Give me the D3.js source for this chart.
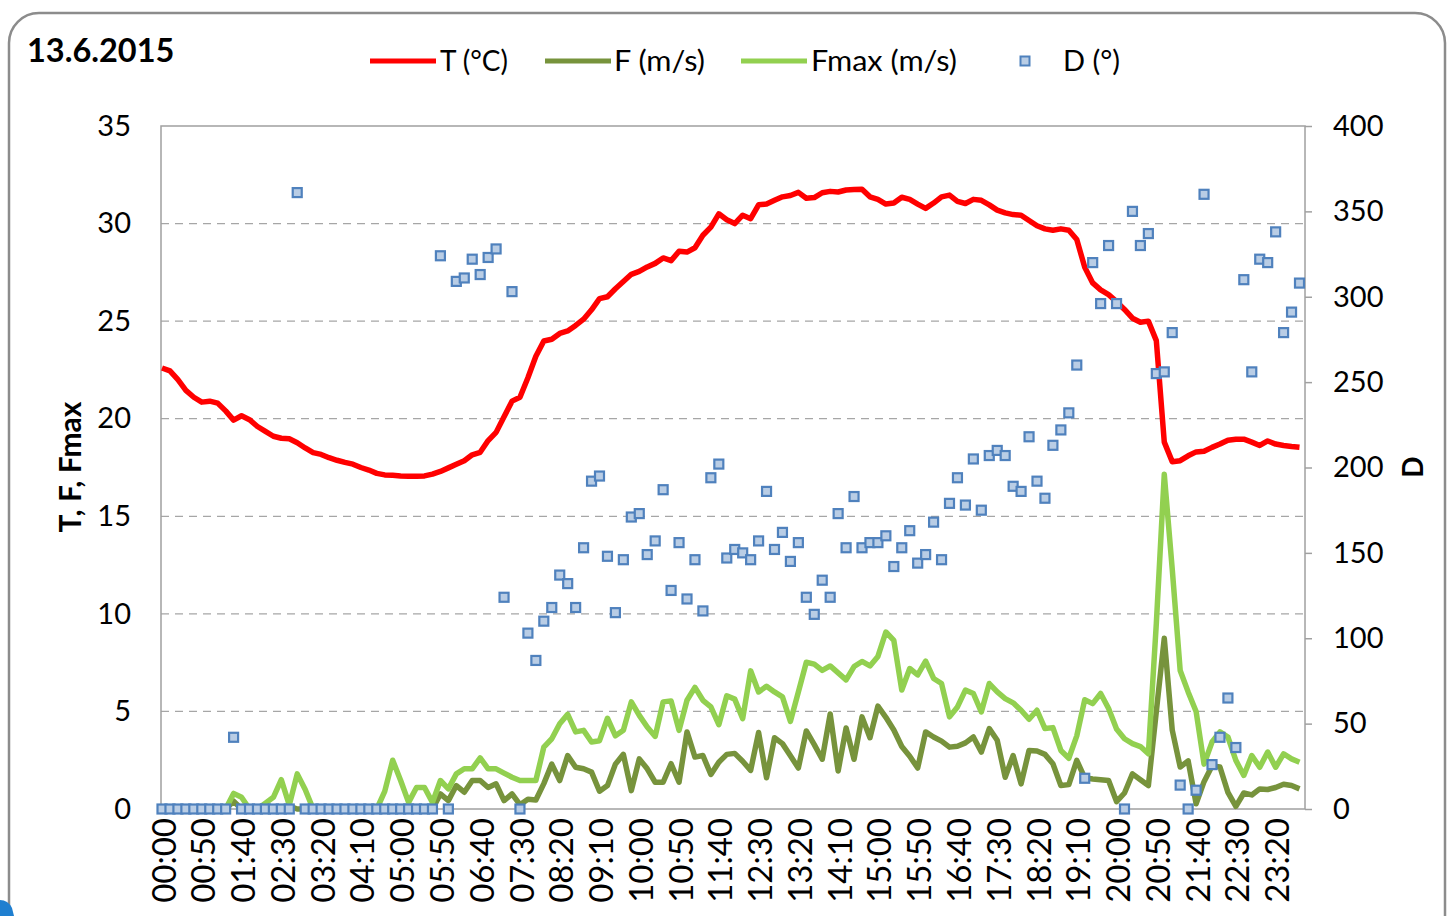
<!DOCTYPE html>
<html><head><meta charset="utf-8">
<script src="https://cdn.jsdelivr.net/npm/d3@7"></script>
<style>html,body{margin:0;padding:0;background:#fff;}svg{display:block;}</style>
</head><body>
<svg id="c" width="1456" height="916"></svg>
<script>
const title = "13.6.2015";
const seriesNames = ["T (°C)", "F (m/s)", "Fmax (m/s)", "D (°)"];
const leftTicks = [0,5,10,15,20,25,30,35];
const rightTicks = [0,50,100,150,200,250,300,350,400];
const leftTitle = "T, F, Fmax";
const rightTitle = "D";

const T = [22.6,22.45,22.0,21.45,21.1,20.85,20.9,20.8,20.4,19.93,20.15,19.95,19.6,19.35,19.1,19.0,18.97,18.77,18.5,18.26,
18.17,18.0,17.87,17.76,17.67,17.5,17.37,17.2,17.12,17.1,17.07,17.05,17.05,17.07,17.16,17.3,17.48,17.67,17.85,18.15,
18.28,18.88,19.3,20.1,20.9,21.1,22.1,23.2,23.98,24.07,24.37,24.5,24.78,25.1,25.58,26.15,26.25,26.66,27.03,27.4,
27.55,27.78,27.96,28.24,28.1,28.58,28.54,28.76,29.4,29.82,30.5,30.2,30.0,30.43,30.25,30.96,31.0,31.19,31.37,31.44,
31.6,31.3,31.33,31.58,31.65,31.62,31.72,31.74,31.76,31.37,31.24,31.0,31.05,31.35,31.24,31.0,30.78,31.05,31.37,31.46,
31.14,31.03,31.24,31.19,30.96,30.69,30.55,30.46,30.43,30.16,29.89,29.73,29.66,29.73,29.66,29.18,27.76,26.96,26.6,26.36,
26.0,25.6,25.15,24.94,25.0,24.0,18.8,17.8,17.85,18.1,18.3,18.33,18.53,18.7,18.9,18.95,18.95,18.8,18.63,18.86,
18.7,18.63,18.58,18.54];

const F = [0,0,0,0,0,0,0,0,0,0.4,0,0,0,0,0,0,0.15,0,0,0,
0,0,0,0,0,0,0,0,0,0,0,0,0,0,0,0.77,0.43,1.2,0.86,1.46,
1.46,1.1,1.29,0.43,0.77,0.22,0.5,0.46,1.3,2.3,1.46,2.74,2.14,2.06,1.89,0.91,1.2,2.3,2.8,0.94,
2.57,2.06,1.37,1.37,2.32,1.37,3.95,2.66,2.74,1.77,2.4,2.8,2.85,2.45,1.98,3.92,1.6,3.65,3.35,2.73,
2.1,4.0,3.3,2.55,4.87,1.95,4.15,2.55,4.72,3.65,5.27,4.7,4.05,3.2,2.7,2.1,3.95,3.69,3.48,3.17,
3.22,3.39,3.69,2.92,4.12,3.52,1.63,2.74,1.29,3.0,2.97,2.8,2.32,1.2,1.25,2.49,1.6,1.54,1.5,1.46,
0.38,0.82,1.8,1.5,1.2,5.0,8.75,4.05,2.15,2.47,0.27,1.4,2.2,2.15,0.85,0.13,0.82,0.72,1.03,1.0,
1.1,1.27,1.2,1.03];

const Fmax = [0,0,0,0,0,0,0,0,0,0.8,0.6,0,0,0.3,0.6,1.5,0.2,1.8,1.0,0,
0,0,0,0,0,0,0,0,0.9,2.5,1.46,0.34,1.1,1.1,0.34,1.46,1.03,1.8,2.06,2.06,
2.62,2.06,2.06,1.84,1.63,1.46,1.46,1.46,3.17,3.6,4.37,4.85,3.95,4.03,3.43,3.5,4.65,3.75,4.03,5.49,
4.8,4.2,3.72,5.49,5.54,4.03,5.57,6.23,5.57,5.23,4.32,5.8,5.63,4.63,7.08,6.0,6.29,6.0,5.75,4.49,
6.0,7.52,7.42,7.1,7.33,6.98,6.62,7.3,7.56,7.33,7.82,9.07,8.64,6.1,7.2,6.87,7.58,6.69,6.43,4.72,
5.23,6.09,5.92,4.97,6.43,6.0,5.66,5.44,5.06,4.6,5.06,4.12,4.17,3.0,2.6,3.75,5.6,5.4,5.92,5.15,
4.1,3.6,3.35,3.2,2.83,9.5,17.15,12.3,7.1,6.0,5.0,2.3,3.43,3.95,3.69,2.49,1.72,2.74,2.14,2.92,
2.14,2.83,2.57,2.4];

const D = [0,0,0,0,0,0,0,0,0,42,0,0,0,0,0,0,0,361,0,0,
0,0,0,0,0,0,0,0,0,0,0,0,0,0,0,324,0,309,311,322,
313,323,328,124,303,0,103,87,110,118,137,132,118,153,192,195,148,115,146,171,
173,149,157,187,128,156,123,146,116,194,202,147,152,150,146,157,186,152,162,145,
156,124,114,134,124,173,153,183,153,156,156,160,142,153,163,144,149,168,146,179,
194,178,205,175,207,210,207,189,186,218,192,182,213,222,232,260,18,320,296,330,
296,0,350,330,337,255,256,279,14,0,11,360,26,42,65,36,310,256,322,320,
338,279,291,308];

const times = T.map((_, i) => {
  const m = i * 10;
  return String(Math.floor(m / 60)).padStart(2, "0") + ":" + String(m % 60).padStart(2, "0");
});

const svg = d3.select("#c");
const FONT = "Lato, 'Open Sans', sans-serif";

// outer frame
svg.append("rect").attr("x", 9).attr("y", 13).attr("width", 1436).attr("height", 960)
  .attr("rx", 30).attr("fill", "#fff").attr("stroke", "#8c8c8c").attr("stroke-width", 2.5);
svg.append("path").attr("d", "M0,900 Q8,900 12,908 L14,916 L0,916 Z").attr("fill", "#1f7fd0");

const L = 161, R = 1305, TOP = 126, BOT = 809;
const x = d3.scaleLinear().domain([0, T.length - 1]).range([L + 1, 1299.5]);
const yL = d3.scaleLinear().domain([0, 35]).range([BOT, TOP]);
const yR = d3.scaleLinear().domain([0, 400]).range([BOT, TOP]);

// gridlines
svg.append("g").selectAll("line").data(leftTicks.filter(t => t > 0 && t < 35)).join("line")
  .attr("x1", L).attr("x2", R).attr("y1", d => yL(d)).attr("y2", d => yL(d))
  .attr("stroke", "#a6a6a6").attr("stroke-width", 1.3).attr("stroke-dasharray", "8,6");

// plot border
svg.append("rect").attr("x", L).attr("y", TOP).attr("width", R - L).attr("height", BOT - TOP)
  .attr("fill", "none").attr("stroke", "#a0a0a0").attr("stroke-width", 1.5);

// left axis
const gl = svg.append("g").attr("transform", `translate(${L},0)`)
  .call(d3.axisLeft(yL).tickValues(leftTicks).tickSize(0).tickPadding(30));
gl.select(".domain").remove();
gl.selectAll("text").attr("font-family", FONT).attr("font-size", 29).attr("fill", "#000");

// right axis
const gr = svg.append("g").attr("transform", `translate(${R},0)`)
  .call(d3.axisRight(yR).tickValues(rightTicks).tickSize(7).tickPadding(21));
gr.select(".domain").remove();
gr.selectAll("line").attr("stroke", "#a0a0a0").attr("stroke-width", 1.5);
gr.selectAll("text").attr("font-family", FONT).attr("font-size", 29).attr("fill", "#000");

// x axis labels
const labelIdx = d3.range(0, T.length, 5);
svg.append("g").selectAll("text").data(labelIdx).join("text")
  .attr("transform", i => `translate(${x(i) + 2},${BOT + 9}) rotate(-90)`)
  .attr("text-anchor", "end").attr("dy", "0.35em")
  .attr("font-family", FONT).attr("font-size", 33).attr("fill", "#000")
  .text(i => times[i]);

// axis titles
svg.append("text").attr("transform", "translate(70,467) rotate(-90)")
  .attr("text-anchor", "middle").attr("dy", "0.35em")
  .attr("font-family", FONT).attr("font-weight", "bold").attr("font-size", 30).text(leftTitle);
svg.append("text").attr("transform", "translate(1413,467) rotate(-90)")
  .attr("text-anchor", "middle").attr("dy", "0.35em")
  .attr("font-family", FONT).attr("font-weight", "bold").attr("font-size", 28).text(rightTitle);

// lines
const mk = (arr, sc) => d3.line().x((d, i) => x(i)).y(d => sc(d))(arr);
svg.append("path").attr("d", mk(T, yL)).attr("fill", "none").attr("stroke", "#ff0000")
  .attr("stroke-width", 5.5).attr("stroke-linejoin", "round");
svg.append("path").attr("d", mk(F, yL)).attr("fill", "none").attr("stroke", "#77933c")
  .attr("stroke-width", 5.5).attr("stroke-linejoin", "round");
svg.append("path").attr("d", mk(Fmax, yL)).attr("fill", "none").attr("stroke", "#92d050")
  .attr("stroke-width", 5.5).attr("stroke-linejoin", "round");

// D markers
svg.append("g").selectAll("rect").data(D).join("rect")
  .attr("x", (d, i) => x(i) - 4.5).attr("y", d => yR(d) - 4.5)
  .attr("width", 9).attr("height", 9)
  .attr("fill", "#b9cde5").attr("stroke", "#4f81bd").attr("stroke-width", 2.2);

// title
svg.append("text").attr("x", 27).attr("y", 62).attr("font-family", FONT)
  .attr("font-weight", "bold").attr("font-size", 32.5).attr("fill", "#000").text(title);

// legend
const leg = svg.append("g");
const legItems = [
  {name: seriesNames[0], color: "#ff0000", type: "line", x0: 370, x1: 436, tx: 440, w: 68},
  {name: seriesNames[1], color: "#77933c", type: "line", x0: 545, x1: 611, tx: 614, w: 91},
  {name: seriesNames[2], color: "#92d050", type: "line", x0: 741, x1: 807, tx: 811, w: 146},
  {name: seriesNames[3], color: "#4f81bd", type: "marker", x0: 1025, x1: 1025, tx: 1063, w: 57}
];
legItems.forEach(it => {
  if (it.type === "line") {
    leg.append("line").attr("x1", it.x0).attr("x2", it.x1).attr("y1", 61).attr("y2", 61)
      .attr("stroke", it.color).attr("stroke-width", 5);
  } else {
    leg.append("rect").attr("x", it.x0 - 4.5).attr("y", 56.5).attr("width", 9).attr("height", 9)
      .attr("fill", "#b9cde5").attr("stroke", "#4f81bd").attr("stroke-width", 2);
  }
  leg.append("text").attr("x", it.tx).attr("y", 61).attr("dy", "0.35em")
    .attr("font-family", FONT).attr("font-size", 29).attr("fill", "#000")
    .attr("textLength", it.w).attr("lengthAdjust", "spacingAndGlyphs").text(it.name);
});
</script>
</body></html>
